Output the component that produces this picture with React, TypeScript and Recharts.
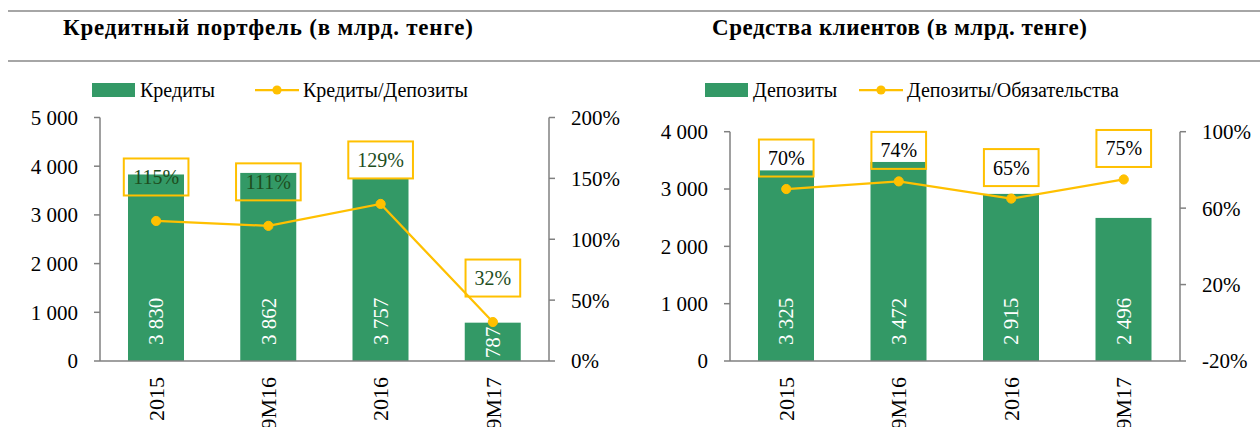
import React from 'react';
import { ComposedChart, Bar, Line, XAxis, YAxis } from 'recharts';

// ---------- data ----------
const categories = ['2015', '9M16', '2016', '9M17'];
const loans = [3830, 3862, 3757, 787];
const loansToDeposits = [115, 111, 129, 32];
const deposits = [3325, 3472, 2915, 2496];
const depositsToLiabilities = [70, 74, 65, 75];

const loanTicks = [0, 1000, 2000, 3000, 4000, 5000];
const loanPctTicks = [0, 50, 100, 150, 200];
const depositTicks = [0, 1000, 2000, 3000, 4000];
const depositPctTicks = [-20, 20, 60, 100];

const leftTitle = 'Кредитный портфель (в млрд. тенге)';
const rightTitle = 'Средства клиентов (в млрд. тенге)';
const leftBarName = 'Кредиты';
const leftLineName = 'Кредиты/Депозиты';
const rightBarName = 'Депозиты';
const rightLineName = 'Депозиты/Обязательства';

const leftData = categories.map((cat, i) => ({ cat, value: loans[i], ratio: loansToDeposits[i] }));
const rightData = categories.map((cat, i) => ({ cat, value: deposits[i], ratio: depositsToLiabilities[i] }));

// ---------- styles ----------
const FONT = '"Liberation Serif", "Times New Roman", serif';
const GREEN = '#339966';
const YELLOW = '#FFC000';
const AXIS = '#808080';
const RULE = '#a6a6a6';

const fmtThousands = (v: number) =>
  v >= 1000 ? `${Math.floor(v / 1000)} ${String(v % 1000).padStart(3, '0')}` : String(v);

const textLen = (s: string, fs: number) => {
  let w = 0;
  for (const ch of s) w += ch === ' ' ? 0.25 * fs : ch === '%' ? 0.833 * fs : 0.5 * fs;
  return w;
};

const BAR_LABEL_FS = 21;

const BarWithLabel = (props: any) => {
  const { x, y, width, height, payload } = props;
  if (x == null || height == null) return null;
  const label = fmtThousands(payload.value);
  const len = textLen(label, BAR_LABEL_FS);
  const base = y + height;
  let cy = base - 16 - len / 2;
  const minCy = y + len / 2 + 4;
  if (cy < minCy) cy = minCy;
  const cx = x + width / 2;
  return (
    <g>
      <rect x={x} y={y} width={width} height={height} fill={GREEN} />
      <text
        x={cx}
        y={cy}
        transform={`rotate(-90, ${cx}, ${cy})`}
        textAnchor="middle"
        dy="0.35em"
        fill="#ffffff"
        fontSize={BAR_LABEL_FS}
        fontFamily={FONT}
      >
        {label}
      </text>
    </g>
  );
};

const makeDot = (textColor: string, lift: number) => (props: any) => {
  const { cx, cy, payload, index } = props;
  if (cx == null || cy == null) return <g key={`d${index}`} />;
  const label = `${payload.ratio}%`;
  const bw = textLen(label, 20) + 18;
  const bh = 37;
  const ly = cy - lift;
  return (
    <g key={`d${index}`}>
      <circle cx={cx} cy={cy} r={4.6} fill={YELLOW} stroke={YELLOW} />
      <rect x={cx - bw / 2} y={ly - bh / 2} width={bw} height={bh} fill="none" stroke={YELLOW} strokeWidth={2} />
      <text x={cx} y={ly} dy="0.35em" textAnchor="middle" fill={textColor} fontSize={20} fontFamily={FONT}>
        {label}
      </text>
    </g>
  );
};

const CatTick = (props: any) => {
  const { x, y, payload } = props;
  const ty = y + 16;
  return (
    <text
      x={x}
      y={ty}
      transform={`rotate(-90, ${x}, ${ty})`}
      textAnchor="end"
      dy="0.35em"
      fill="#000"
      fontSize={22}
      fontFamily={FONT}
    >
      {payload.value}
    </text>
  );
};

const tickStyle = { fill: '#000', fontSize: 21, fontFamily: FONT };

type PanelProps = {
  data: any[];
  left: number;
  top: number;
  width: number;
  height: number;
  marginTop: number;
  leftW: number;
  rightW: number;
  barTicks: number[];
  pctTicks: number[];
  labelColor: string;
  lift: number;
};

const Panel = (p: PanelProps) => (
  <div style={{ position: 'absolute', left: p.left, top: p.top, width: p.width, height: p.height }}>
    <ComposedChart
      width={p.width}
      height={p.height}
      data={p.data}
      margin={{ top: p.marginTop, right: 0, bottom: 0, left: 0 }}
      barSize={56}
    >
      <XAxis
        dataKey="cat"
        xAxisId="x"
        height={66}
        interval={0}
        tickLine={false}
        tickSize={0}
        tickMargin={0}
        axisLine={{ stroke: AXIS, strokeWidth: 1.5 }}
        tick={<CatTick />}
      />
      <YAxis
        yAxisId="left"
        orientation="left"
        width={p.leftW}
        domain={[p.barTicks[0], p.barTicks[p.barTicks.length - 1]]}
        ticks={p.barTicks}
        tickFormatter={fmtThousands}
        tick={tickStyle}
        tickSize={6}
        tickMargin={16}
        tickLine={{ stroke: AXIS, strokeWidth: 1.5 }}
        axisLine={{ stroke: AXIS, strokeWidth: 1.5 }}
        interval={0}
      />
      <YAxis
        yAxisId="right"
        orientation="right"
        width={p.rightW}
        domain={[p.pctTicks[0], p.pctTicks[p.pctTicks.length - 1]]}
        ticks={p.pctTicks}
        tickFormatter={(v: number) => `${v}%`}
        tick={tickStyle}
        tickSize={6}
        tickMargin={16}
        tickLine={{ stroke: AXIS, strokeWidth: 1.5 }}
        axisLine={{ stroke: AXIS, strokeWidth: 1.5 }}
        interval={0}
      />
      <Bar
        dataKey="value"
        xAxisId="x"
        yAxisId="left"
        fill={GREEN}
        shape={<BarWithLabel />}
        isAnimationActive={false}
      />
      <Line
        dataKey="ratio"
        xAxisId="x"
        yAxisId="right"
        stroke={YELLOW}
        strokeWidth={2.25}
        dot={makeDot(p.labelColor, p.lift)}
        activeDot={false}
        isAnimationActive={false}
      />
    </ComposedChart>
  </div>
);

const LegendBlock = ({ sx, tx, lx, ltx, barName, lineName }: any) => (
  <g fontFamily={FONT} fontSize={20} fill="#000">
    <rect x={sx} y={83} width={43} height={14} fill={GREEN} />
    <text x={tx} y={90} dy="0.35em">{barName}</text>
    <line x1={lx} x2={lx + 44} y1={90} y2={90} stroke={YELLOW} strokeWidth={2.25} />
    <circle cx={lx + 22} cy={90} r={4.6} fill={YELLOW} />
    <text x={ltx} y={90} dy="0.35em">{lineName}</text>
  </g>
);

export default function App() {
  return (
    <div style={{ position: 'absolute', left: 0, top: 0, width: 1260, height: 427, overflow: 'hidden', background: '#fff' }}>
      <svg width={1260} height={427} style={{ position: 'absolute', left: 0, top: 0 }}>
        <rect x={8} y={10} width={1252} height={2} fill={RULE} />
        <rect x={8} y={60} width={1252} height={2} fill={RULE} />
        <text
          x={268}
          y={35}
          textAnchor="middle"
          fontFamily={FONT}
          fontWeight="bold"
          fontSize={23}
          textLength={410}
          lengthAdjust="spacing"
          fill="#000"
        >
          {leftTitle}
        </text>
        <text
          x={899.5}
          y={35}
          textAnchor="middle"
          fontFamily={FONT}
          fontWeight="bold"
          fontSize={23}
          textLength={375}
          lengthAdjust="spacing"
          fill="#000"
        >
          {rightTitle}
        </text>
        <LegendBlock sx={92} tx={140} lx={255} ltx={303} barName={leftBarName} lineName={leftLineName} />
        <LegendBlock sx={705} tx={753} lx={859} ltx={907} barName={rightBarName} lineName={rightLineName} />
      </svg>
      <Panel
        data={leftData}
        left={0}
        top={60}
        width={630}
        height={367}
        marginTop={57.5}
        leftW={100}
        rightW={81}
        barTicks={loanTicks}
        pctTicks={loanPctTicks}
        labelColor="#1d4d1d"
        lift={44}
      />
      <Panel
        data={rightData}
        left={630}
        top={60}
        width={630}
        height={367}
        marginTop={71.7}
        leftW={100}
        rightW={80}
        barTicks={depositTicks}
        pctTicks={depositPctTicks}
        labelColor="#000000"
        lift={31}
      />
    </div>
  );
}
